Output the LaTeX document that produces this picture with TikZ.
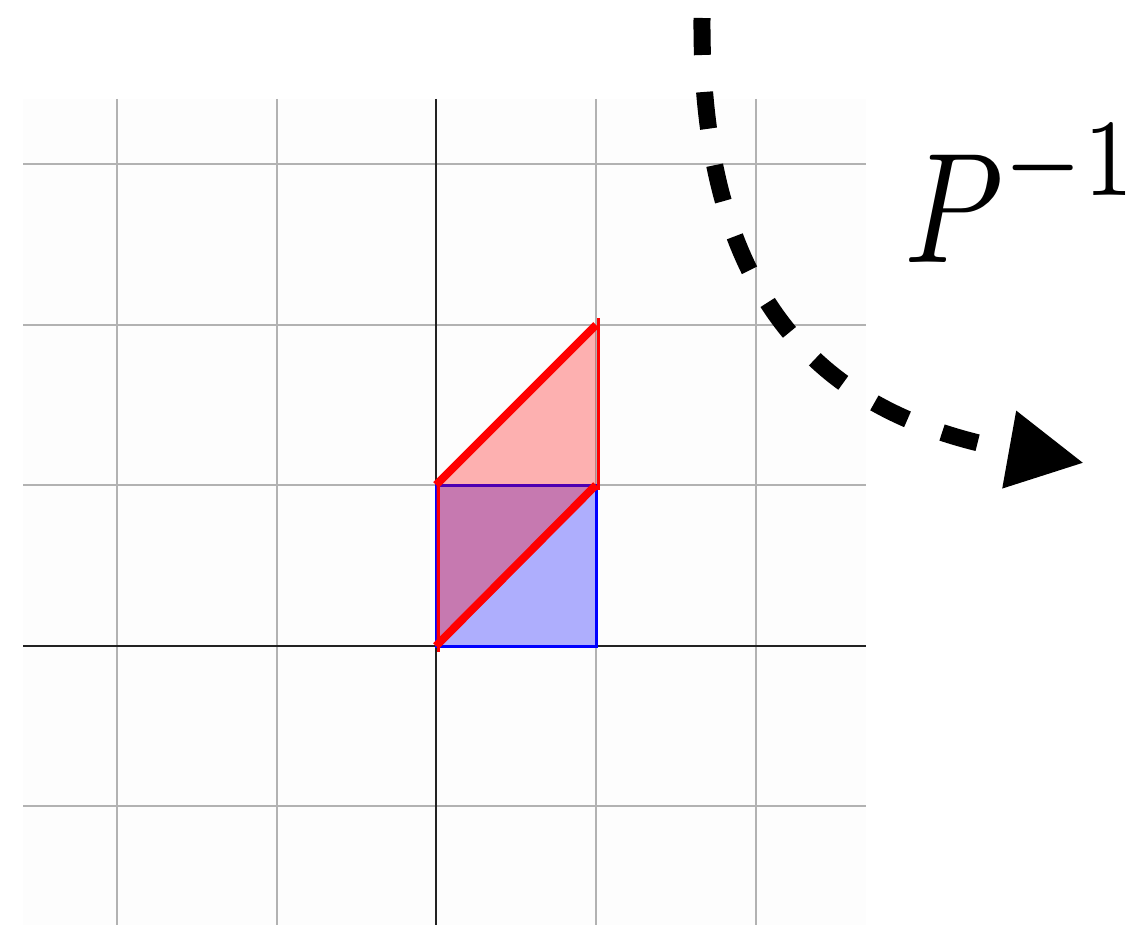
\documentclass[tikz,border=0pt]{standalone}
\usetikzlibrary{arrows.meta}
\definecolor{gridgray}{HTML}{B2B2B2}
\definecolor{axisdark}{HTML}{222222}
\definecolor{bgpaper}{HTML}{FDFDFD}
\tikzset{
  gridline/.style={draw=gridgray, line width=2.8pt},
  axisline/.style={draw=axisdark, line width=2.2pt},
  squarefill/.style={fill=blue, fill opacity=0.31, draw=blue, draw opacity=1, line width=3pt},
  shearfill/.style={fill=red, fill opacity=0.3},
  shearthin/.style={draw=red, line width=3pt},
  shearthick/.style={draw=red, line width=8pt},
  maparrow/.style={draw=black, line width=17pt, dash pattern=on 37pt off 37pt, -{Triangle[length=76pt,width=74pt]}}
}
\begin{document}
\begin{tikzpicture}[x=1pt,y=-1pt]
\useasboundingbox (0,0) rectangle (1139,925);
% background of the plot
\fill[bgpaper] (23,99) rectangle (866,925);
% grid
\foreach \gx in {117,277,596,756} \draw[gridline] (\gx,99) -- (\gx,925);
\foreach \gy in {164,325,485,806} \draw[gridline] (23,\gy) -- (866,\gy);
% axes
\draw[axisline] (436,99) -- (436,925);
\draw[axisline] (23,646) -- (866,646);
% unit square (blue)
\coordinate (o) at (436,646);
\coordinate (e1) at (596,646);
\coordinate (e11) at (596,485);
\coordinate (e2) at (436,485);
\coordinate (e12) at (596,325);
\path[squarefill] (o) rectangle (e11);
% sheared square (red)
\fill[shearfill] (o) -- (e11) -- (e12) -- (e2) -- cycle;
\draw[shearthin] (438,652) -- (438,485);
\draw[shearthin] (598,318) -- (598,490);
\draw[shearthick] (o) -- (e11);
\draw[shearthick] (e2) -- (e12);
% map arrow
\coordinate (arrstart) at (702,18);
\coordinate (arrend) at (1084,463);
\draw[maparrow] (arrstart) .. controls (700,300) and (822,416) .. (arrend);
% label
\node[anchor=base west, inner sep=0pt, xscale=12.7, yscale=15.7] (plabel) at (902,262)
  {$P^{\raisebox{0.06em}{$\scriptstyle -1$}}$};
\end{tikzpicture}
\end{document}
